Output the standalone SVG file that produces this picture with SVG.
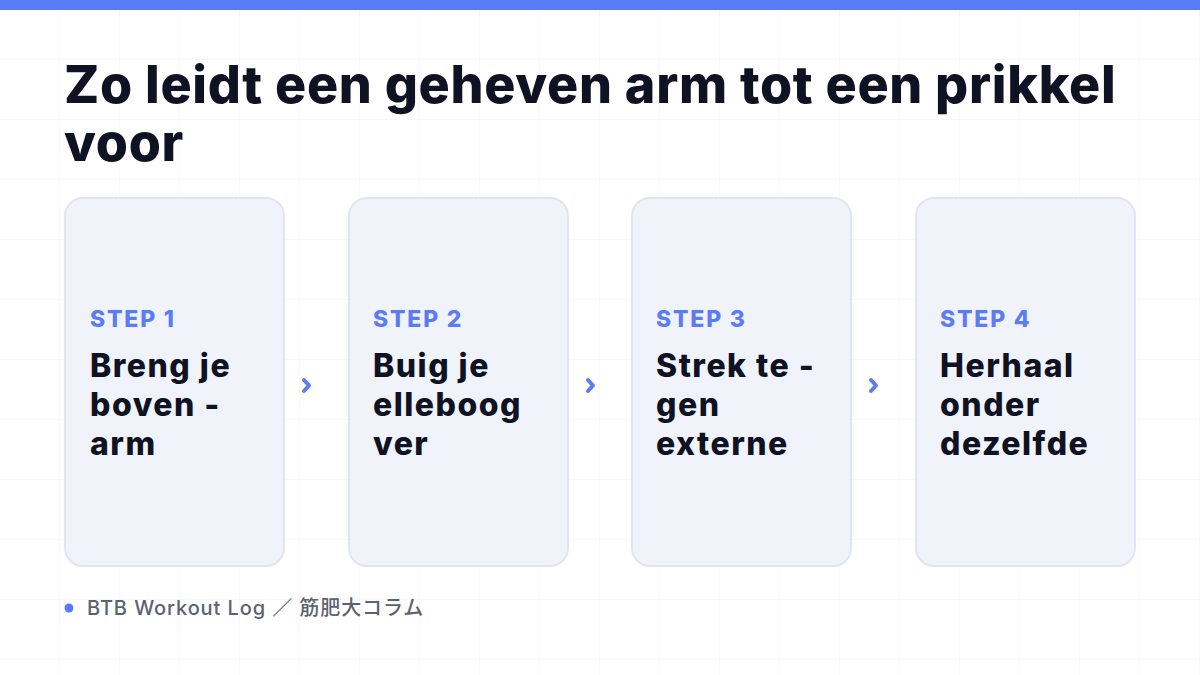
<svg xmlns="http://www.w3.org/2000/svg" width="1200" height="675" viewBox="0 0 1200 675">
<defs>
<pattern id="grid" width="60" height="60" patternUnits="userSpaceOnUse">
<path d="M60 0V60M0 60H60" fill="none" stroke="#eef0f4" stroke-width="1"/>
</pattern>
</defs>
<style>
.title{font-family:Inter,"Liberation Sans",sans-serif;font-weight:800;font-size:52px;fill:#0f1222;letter-spacing:0.7px}
.card{fill:#f1f3fb;stroke:#e1e5f1;stroke-width:2}
.step{font-family:Inter,"Liberation Sans",sans-serif;font-weight:800;font-size:23px;fill:#5b7cf6;letter-spacing:1.8px}
.body{font-family:Inter,"Liberation Sans",sans-serif;font-weight:800;font-size:32px;fill:#0f1222;letter-spacing:1.5px}
.chev{fill:none;stroke:#5b7cf6;stroke-width:4;stroke-linecap:round;stroke-linejoin:round}
.foot{font-family:Inter,"Noto Sans CJK JP",sans-serif;font-weight:500;font-size:20px;fill:#5c6272;letter-spacing:0.9px}
</style>
<rect width="1200" height="675" fill="#ffffff"/>
<rect width="1200" height="675" fill="url(#grid)"/>
<rect width="1200" height="10" fill="#5b7cf6"/>
<g id="title">
<text class="title" x="64" y="103">Zo leidt een geheven arm tot een prikkel</text>
<text class="title" x="64" y="161">voor</text>
</g>
<g id="step1">
<rect class="card" x="65" y="198" width="219" height="368" rx="18"/>
<text class="step" x="90" y="327">STEP 1</text>
<text class="body" x="90" y="377">Breng je</text>
<text class="body" x="90" y="416">boven -</text>
<text class="body" x="90" y="455">arm</text>
</g>
<g id="step2">
<rect class="card" x="349" y="198" width="219" height="368" rx="18"/>
<text class="step" x="373" y="327">STEP 2</text>
<text class="body" x="373" y="377">Buig je</text>
<text class="body" x="373" y="416">elleboog</text>
<text class="body" x="373" y="455">ver</text>
</g>
<g id="step3">
<rect class="card" x="632" y="198" width="219" height="368" rx="18"/>
<text class="step" x="656" y="327">STEP 3</text>
<text class="body" x="656" y="377">Strek te -</text>
<text class="body" x="656" y="416">gen</text>
<text class="body" x="656" y="455">externe</text>
</g>
<g id="step4">
<rect class="card" x="916" y="198" width="219" height="368" rx="18"/>
<text class="step" x="940" y="327">STEP 4</text>
<text class="body" x="940" y="377">Herhaal</text>
<text class="body" x="940" y="416">onder</text>
<text class="body" x="940" y="455">dezelfde</text>
</g>
<g id="connectors">
<path class="chev" d="M304 380L309 385.5L304 391"/>
<path class="chev" d="M588 380L593 385.5L588 391"/>
<path class="chev" d="M871 380L876 385.5L871 391"/>
</g>
<g id="footer">
<circle cx="69" cy="608" r="4.5" fill="#5b7cf6"/>
<text class="foot" x="87" y="615">BTB Workout Log ／ 筋肥大コラム</text>
</g>
</svg>
